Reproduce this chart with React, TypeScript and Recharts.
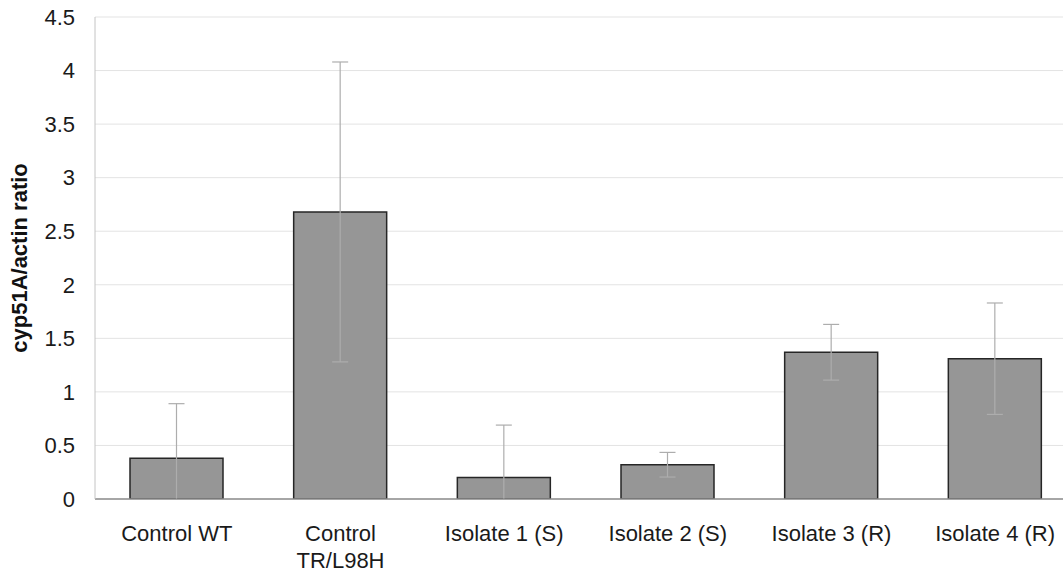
import { BarChart, Bar, XAxis, YAxis, CartesianGrid, ErrorBar } from "recharts";

const categories = [
  "Control WT",
  "Control\nTR/L98H",
  "Isolate 1 (S)",
  "Isolate 2 (S)",
  "Isolate 3 (R)",
  "Isolate 4 (R)",
];
const ratios = [0.38, 2.68, 0.2, 0.32, 1.37, 1.31];
const errors = [0.51, 1.4, 0.49, 0.115, 0.26, 0.52];
const yTicks = [0, 0.5, 1, 1.5, 2, 2.5, 3, 3.5, 4, 4.5];

const data = categories.map((name, i) => ({
  name,
  ratio: ratios[i],
  err: errors[i],
}));

const font = "'Liberation Sans', Arial, sans-serif";

function CategoryTick(props: any) {
  const { x, y, payload } = props;
  const lines = String(payload.value).split("\n");
  return (
    <text
      x={x}
      y={y}
      textAnchor="middle"
      fontFamily={font}
      fontSize={22}
      fill="#1a1a1a"
    >
      {lines.map((line, i) => (
        <tspan key={i} x={x} dy={i === 0 ? 34 : 27}>
          {line}
        </tspan>
      ))}
    </text>
  );
}

export default function App() {
  return (
    <div
      style={{
        position: "absolute",
        left: 0,
        top: 0,
        width: 1063,
        height: 573,
        overflow: "hidden",
        background: "#fff",
      }}
    >
      {/* error bars below zero are cut at the axis, like the original */}
      <style>{`.recharts-errorBars { clip-path: url(#errClip); }`}</style>
      <svg width={0} height={0} style={{ position: "absolute" }}>
        <defs>
          <clipPath id="errClip" clipPathUnits="userSpaceOnUse">
            <rect x={95} y={0} width={1000} height={499} />
          </clipPath>
        </defs>
      </svg>
      <BarChart
        width={1080}
        height={573}
        data={data}
        margin={{ top: 17, right: 3, left: 0, bottom: 0 }}
      >
        <CartesianGrid vertical={false} stroke="#e3e3e3" />
        <XAxis
          dataKey="name"
          height={74}
          tickLine={false}
          axisLine={{ stroke: "#8c8c8c", strokeWidth: 1.5 }}
          tick={<CategoryTick />}
          interval={0}
        />
        <YAxis
          domain={[0, 4.5]}
          ticks={yTicks}
          allowDataOverflow
          width={95}
          tickLine={false}
          axisLine={{ stroke: "#c4c4c4" }}
          tickMargin={14}
          tick={{ fontSize: 22, fill: "#1a1a1a", fontFamily: font }}
          label={{
            value: "cyp51A/actin ratio",
            angle: -90,
            position: "insideLeft",
            offset: 19,
            style: {
              textAnchor: "middle",
              fontFamily: font,
              fontSize: 22,
              fontWeight: "bold",
              fill: "#111",
            },
          }}
        />
        <Bar
          dataKey="ratio"
          fill="#969696"
          stroke="#262626"
          strokeWidth={1.5}
          barSize={93}
          isAnimationActive={false}
        >
          <ErrorBar
            dataKey="err"
            direction="y"
            width={8}
            stroke="#adadad"
            strokeWidth={1.2}
          />
        </Bar>
      </BarChart>
    </div>
  );
}
